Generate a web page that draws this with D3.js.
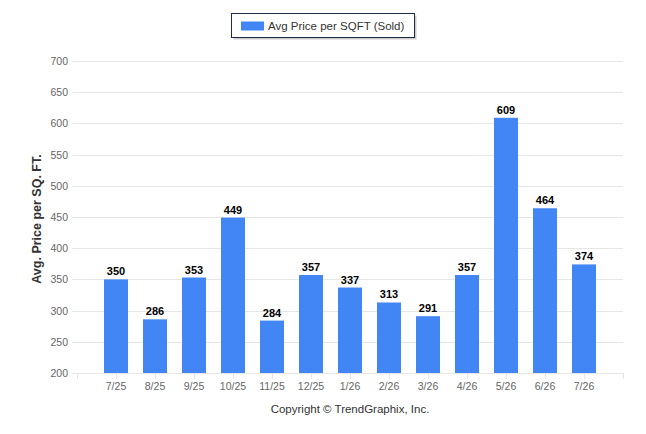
<!DOCTYPE html>
<html>
<head>
<meta charset="utf-8">
<script src="https://cdn.jsdelivr.net/npm/d3@7"></script>
<style>
  body { margin: 0; background: #fff; }
  svg { display: block; font-family: "Liberation Sans", Arial, sans-serif; }
</style>
</head>
<body>
<svg id="chart" width="646" height="434"></svg>
<script>
  var months = ["7/25", "8/25", "9/25", "10/25", "11/25", "12/25", "1/26", "2/26", "3/26", "4/26", "5/26", "6/26", "7/26"];
  var avgPrice = [350, 286, 353, 449, 284, 357, 337, 313, 291, 357, 609, 464, 374];
  var yTicks = [200, 250, 300, 350, 400, 450, 500, 550, 600, 650, 700];

  var svg = d3.select("#chart"),
    blue = "#4285f4",
    plotLeft = 72,
    plotRight = 623,
    plotTop = 61,
    plotBottom = 373;

  // categories sit on the ticks, with one empty slot on each side
  var x = d3.scaleLinear().domain([-1, months.length]).range([77, plotRight]);
  var y = d3.scaleLinear().domain([200, 700]).range([plotBottom, plotTop]);
  var barWidth = 24;

  // gridlines
  svg.append("g")
    .selectAll("line")
    .data(yTicks)
    .enter().append("line")
      .attr("x1", plotLeft)
      .attr("x2", plotRight)
      .attr("y1", (d) => Math.round(y(d)) + 0.5)
      .attr("y2", (d) => Math.round(y(d)) + 0.5)
      .attr("stroke", "#e6e6e6");

  // y tick labels
  svg.append("g")
    .selectAll("text")
    .data(yTicks)
    .enter().append("text")
      .attr("x", 68)
      .attr("y", (d) => y(d) + 4)
      .attr("text-anchor", "end")
      .attr("font-size", 10.5)
      .attr("fill", "#666")
      .text((d) => d);

  // x axis ticks
  var tickIdx = d3.range(-1, months.length + 1);
  svg.append("g")
    .selectAll("line")
    .data(tickIdx)
    .enter().append("line")
      .attr("x1", (d) => Math.round(x(d)) + 0.5)
      .attr("x2", (d) => Math.round(x(d)) + 0.5)
      .attr("y1", plotBottom)
      .attr("y2", plotBottom + 6)
      .attr("stroke", "#e6e6e6");

  svg.append("g")
    .selectAll("text")
    .data(months)
    .enter().append("text")
      .attr("x", (d, i) => x(i))
      .attr("y", plotBottom + 17)
      .attr("text-anchor", "middle")
      .attr("font-size", 10.5)
      .attr("fill", "#666")
      .text((d) => d);

  // bars
  svg.append("g")
    .selectAll("rect")
    .data(avgPrice)
    .enter().append("rect")
      .attr("x", (d, i) => x(i) - barWidth / 2)
      .attr("y", (d) => y(d))
      .attr("width", barWidth)
      .attr("height", (d) => plotBottom - y(d))
      .attr("fill", blue);

  // value labels
  svg.append("g")
    .selectAll("text")
    .data(avgPrice)
    .enter().append("text")
      .attr("x", (d, i) => x(i))
      .attr("y", (d) => y(d) - 4)
      .attr("text-anchor", "middle")
      .attr("font-size", 11)
      .attr("font-weight", "bold")
      .attr("fill", "#000")
      .text((d) => d);

  // y axis title
  svg.append("text")
    .attr("transform", "translate(41,219) rotate(-90)")
    .attr("text-anchor", "middle")
    .attr("font-size", 12.5)
    .attr("font-weight", "bold")
    .attr("fill", "#333")
    .text("Avg. Price per SQ. FT.");

  // legend
  var legend = svg.append("g");
  legend.append("rect")
    .attr("x", 233.5).attr("y", 15.5)
    .attr("width", 183).attr("height", 24)
    .attr("fill", "#999").attr("opacity", 0.5);
  legend.append("rect")
    .attr("x", 231.5).attr("y", 13.5)
    .attr("width", 183).attr("height", 24)
    .attr("fill", "#fff").attr("stroke", "#1f2a44");
  legend.append("rect")
    .attr("x", 241).attr("y", 21.5)
    .attr("width", 23).attr("height", 9)
    .attr("fill", blue);
  legend.append("text")
    .attr("x", 268).attr("y", 30)
    .attr("font-size", 11.5)
    .attr("fill", "#333")
    .text("Avg Price per SQFT (Sold)");

  // credit
  svg.append("text")
    .attr("x", 350).attr("y", 413)
    .attr("text-anchor", "middle")
    .attr("font-size", 11.5)
    .attr("fill", "#333")
    .text("Copyright \u00a9 TrendGraphix, Inc.");
</script>
</body>
</html>
